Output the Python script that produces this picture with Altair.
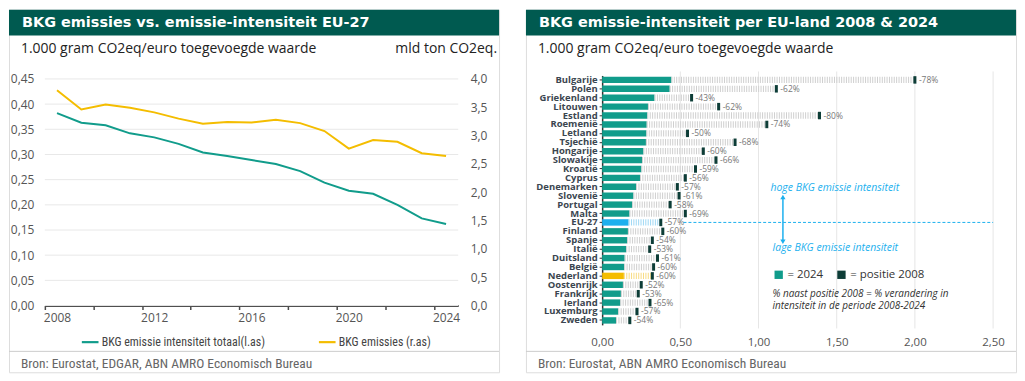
import altair as alt
import pandas as pd

# ---------------- data ----------------
jaren = list(range(2008, 2025))
intensiteit = [0.382, 0.363, 0.358, 0.342, 0.334, 0.321, 0.304, 0.297, 0.289,
               0.281, 0.267, 0.244, 0.228, 0.222, 0.200, 0.173, 0.162]
emissies = [3.80, 3.46, 3.55, 3.49, 3.41, 3.30, 3.21, 3.24, 3.23,
            3.28, 3.22, 3.08, 2.77, 2.92, 2.89, 2.69, 2.64]

landen = ["Bulgarije", "Polen", "Griekenland", "Litouwen", "Estland", "Roemenië",
          "Letland", "Tsjechië", "Hongarije", "Slowakije", "Kroatië", "Cyprus",
          "Denemarken", "Slovenië", "Portugal", "Malta", "EU-27", "Finland",
          "Spanje", "Italië", "Duitsland", "België", "Nederland", "Oostenrijk",
          "Frankrijk", "Ierland", "Luxemburg", "Zweden"]
waarde_2024 = [0.443, 0.432, 0.335, 0.293, 0.289, 0.285, 0.283, 0.280, 0.264,
               0.255, 0.251, 0.242, 0.217, 0.200, 0.192, 0.175, 0.169, 0.165,
               0.160, 0.154, 0.144, 0.141, 0.139, 0.133, 0.120, 0.116, 0.103, 0.089]
waarde_2008 = [2.000, 1.114, 0.572, 0.745, 1.390, 1.053, 0.546, 0.850, 0.647,
               0.728, 0.597, 0.532, 0.481, 0.492, 0.435, 0.532, 0.375, 0.388,
               0.321, 0.304, 0.354, 0.329, 0.321, 0.250, 0.231, 0.306, 0.223, 0.177]
verandering = ["-78%", "-62%", "-43%", "-62%", "-80%", "-74%", "-50%", "-68%", "-60%",
               "-66%", "-59%", "-56%", "-57%", "-61%", "-58%", "-69%", "-57%", "-60%",
               "-54%", "-53%", "-61%", "-60%", "-60%", "-52%", "-53%", "-65%", "-57%", "-54%"]

ticks_links = [0, 0.05, 0.10, 0.15, 0.20, 0.25, 0.30, 0.35, 0.40, 0.45]
ticks_rechts = [0, 0.5, 1.0, 1.5, 2.0, 2.5, 3.0, 3.5, 4.0]
ticks_land = [0, 0.5, 1.0, 1.5, 2.0, 2.5]

SERIE1 = "BKG emissie intensiteit totaal(l.as)"
SERIE2 = "BKG emissies (r.as)"

# ---------------- style ----------------
FONT = "Open Sans"
TITLE_FONT = "DejaVu Sans"
NARROW = "Liberation Sans Narrow, Roboto Condensed, Open Sans, sans-serif"
DARK_HEAD = "#005a50"
TEAL = "#119c8b"
YELLOW = "#f4bd00"
BLUE = "#1cb0ee"
DARK = "#0d3d37"
H = 364
W = 492


def single(text):
    return pd.DataFrame({"t": [text]})


def header(title, subtitle):
    rect = alt.Chart(single(title)).mark_rect(color=DARK_HEAD).encode(
        x=alt.value(0), x2=alt.value(W), y=alt.value(0), y2=alt.value(26))
    t = alt.Chart(single(title)).mark_text(
        align="left", baseline="middle", font=TITLE_FONT, fontSize=14.5,
        fontWeight="bold", color="white").encode(
        x=alt.value(13), y=alt.value(13.5), text="t:N")
    s = alt.Chart(single(subtitle)).mark_text(
        align="left", baseline="middle", font=FONT, fontSize=14,
        color="#222222").encode(x=alt.value(12), y=alt.value(39), text="t:N")
    return [rect, t, s]


def footer(source):
    line = alt.Chart(single(source)).mark_rule(color="#cccccc", strokeWidth=1).encode(
        x=alt.value(0), x2=alt.value(W), y=alt.value(343))
    txt = alt.Chart(single(source)).mark_text(
        align="left", baseline="middle", font=NARROW, fontSize=13.5,
        color="#666666").encode(x=alt.value(12), y=alt.value(355.5), text="t:N")
    return [line, txt]


nl2 = "replace(format(datum.value, '.2f'), '.', ',')"
nl1 = "replace(format(datum.value, '.1f'), '.', ',')"

# ---------------- left panel ----------------
df_l = pd.DataFrame({"jaar": jaren, "intensiteit": intensiteit, "emissies": emissies})

x_l = alt.X(
    "jaar:Q", title=None,
    scale=alt.Scale(domain=[2007.5, 2024.5], range=[36, 451], nice=False, zero=False),
    axis=alt.Axis(
        orient="bottom", offset=-(H - 297), values=[2007.5 + i for i in range(18)],
        labelExpr="(datum.value - 2007.5) % 4 == 0 && datum.value < 2024 ? '' + (datum.value + 0.5) : ''",
        labelOffset=12.2, labelFlush=False, labelOverlap=False, labelBound=False,
        domainColor="#4a4a4a", domainWidth=2, tickColor="#4a4a4a", tickSize=4,
        tickWidth=1.5, labelFontSize=12, labelColor="#555555", labelPadding=3,
        grid=False, labelFont=FONT))

y_l_scale = alt.Scale(domain=[0, 0.45], range=[297, 69.5], nice=False, zero=True)
y_r_scale = alt.Scale(domain=[0, 4.0], range=[297, 69.5], nice=False, zero=True)

grid_l = alt.Chart(pd.DataFrame({"g": ticks_links})).mark_rule(
    color="#e8e8e8", strokeWidth=1).encode(
    y=alt.Y("g:Q", scale=y_l_scale, axis=None, title=None),
    x=alt.value(36), x2=alt.value(451))

line1 = alt.Chart(df_l).transform_calculate(serie=f"'{SERIE1}'").mark_line(
    strokeWidth=2).encode(
    x=x_l,
    y=alt.Y("intensiteit:Q", scale=y_l_scale, title=None,
            axis=alt.Axis(orient="left", offset=-36, values=ticks_links, labelExpr=nl2,
                          domain=False, ticks=False, grid=False, labelPadding=11,
                          labelFontSize=12, labelColor="#555555", labelFont=FONT)),
    color=alt.Color("serie:N",
                    scale=alt.Scale(domain=[SERIE1, SERIE2], range=[TEAL, YELLOW]),
                    legend=alt.Legend(orient="none", legendX=72, legendY=324,
                                      direction="horizontal", title=None,
                                      symbolType="stroke", symbolStrokeWidth=2.2,
                                      symbolSize=280, labelFontSize=12,
                                      labelColor="#444444", labelFont=NARROW,
                                      labelLimit=400, columnPadding=48,
                                      labelOffset=2)))

line2 = alt.Chart(df_l).transform_calculate(serie=f"'{SERIE2}'").mark_line(
    strokeWidth=2).encode(
    x=alt.X("jaar:Q", title=None),
    y=alt.Y("emissies:Q", scale=y_r_scale, title=None,
            axis=alt.Axis(orient="right", offset=-(W - 451), values=ticks_rechts,
                          labelExpr=nl1, domain=False, ticks=False, grid=False,
                          labelPadding=12, labelFontSize=12, labelColor="#555555",
                          labelFont=FONT)),
    color=alt.Color("serie:N"))

unit_l = alt.Chart(single("mld ton CO2eq.")).mark_text(
    align="right", baseline="middle", font=FONT, fontSize=14, color="#222222").encode(
    x=alt.value(490), y=alt.value(39), text="t:N")

left = alt.layer(
    grid_l, line1, line2,
    *header("BKG emissies vs. emissie-intensiteit EU-27",
            "1.000 gram CO2eq/euro toegevoegde waarde"),
    unit_l,
    *footer("Bron: Eurostat, EDGAR, ABN AMRO Economisch Bureau"),
).resolve_scale(y="independent").properties(width=W, height=H)

# ---------------- right panel ----------------
df_r = pd.DataFrame({"land": landen, "v2024": waarde_2024, "v2008": waarde_2008,
                     "pct": verandering})

x_scale_r = alt.Scale(domain=[0, 2.5], range=[76.5, 469], nice=False, zero=True)
y_r = alt.Y("land:N", sort=landen, title=None,
            scale=alt.Scale(range=[66.0, 316.4], paddingInner=0.28, paddingOuter=0.14),
            axis=alt.Axis(orient="left", offset=-76.5, domainColor="#333333",
                          domainWidth=1.5, tickColor="#333333", tickSize=3,
                          labelPadding=2, labelFontSize=9.5, labelFontWeight="bold",
                          labelColor="#3b4650", labelFont=FONT, grid=False))

kleur_scale = alt.Scale(domain=["= 2024", "= positie 2008", "EU-27", "Nederland"],
                        range=[TEAL, DARK, BLUE, YELLOW])

grid_r = alt.Chart(pd.DataFrame({"g": ticks_land[1:]})).mark_rule(
    color="#e6e6e6", strokeWidth=1).encode(
    x=alt.X("g:Q", title=None, scale=x_scale_r),
    y=alt.value(62), y2=alt.value(320))

bars = alt.Chart(df_r).transform_calculate(
    groep="datum.land == 'EU-27' ? 'EU-27' : datum.land == 'Nederland' ? 'Nederland' : '= 2024'"
).mark_bar().encode(
    x=alt.X("v2024:Q", title=None, scale=x_scale_r,
            axis=alt.Axis(orient="bottom", offset=-(H - 325), values=ticks_land,
                          labelExpr=nl2, domain=False, ticks=False, grid=False,
                          labelFontSize=11.5, labelColor="#555555", labelFlush=False,
                          labelPadding=3, labelFont=FONT)),
    y=y_r,
    color=alt.Color("groep:N", scale=kleur_scale,
                    legend=alt.Legend(orient="none", legendX=248, legendY=260,
                                      direction="horizontal", title=None,
                                      values=["= 2024", "= positie 2008"],
                                      symbolType="square", symbolSize=70,
                                      symbolStrokeWidth=0, labelFontSize=11.5,
                                      labelColor="#333333", labelFont=FONT,
                                      columnPadding=12, labelOffset=3)))

stripes = alt.Chart(df_r).transform_calculate(
    streep="datum.land == 'EU-27' ? '#9ed8f5' : datum.land == 'Nederland' ? '#f8dc84' : '#cfcfcf'"
).mark_rule(strokeWidth=6.4, strokeDash=[1, 1.4]).encode(
    x=alt.X("v2024:Q", title=None), x2="v2008:Q", y=alt.Y("land:N", sort=landen),
    stroke=alt.Stroke("streep:N", scale=None))

marks2008 = alt.Chart(df_r).transform_calculate(groep="'= positie 2008'").mark_tick(
    thickness=3, size=7.5, opacity=1).encode(
    x=alt.X("v2008:Q", title=None), y=alt.Y("land:N", sort=landen),
    color=alt.Color("groep:N"))

pct_txt = alt.Chart(df_r).mark_text(
    align="left", baseline="middle", dx=4, fontSize=8.5, color="#777777",
    font=FONT).encode(
    x=alt.X("v2008:Q", title=None), y=alt.Y("land:N", sort=landen), text="pct:N")

eu_line = alt.Chart(single("EU-27")).mark_rule(
    color=BLUE, strokeWidth=1, strokeDash=[3, 2]).encode(
    x=alt.datum(0.52), x2=alt.datum(2.5), y=alt.datum("EU-27"))

arrow = alt.Chart(single("pijl")).mark_rule(color=BLUE, strokeWidth=1.5).encode(
    x=alt.datum(1.156), y=alt.value(189), y2=alt.value(232))
arrow_up = alt.Chart(single("pijl")).mark_point(
    shape="triangle-up", filled=True, size=28, color=BLUE, opacity=1).encode(
    x=alt.datum(1.156), y=alt.value(188))
arrow_down = alt.Chart(single("pijl")).mark_point(
    shape="triangle-down", filled=True, size=28, color=BLUE, opacity=1).encode(
    x=alt.datum(1.156), y=alt.value(233))

hoge = alt.Chart(single("hoge BKG emissie intensiteit")).mark_text(
    align="left", baseline="middle", fontSize=10.5, fontStyle="italic", color=BLUE,
    font=FONT).encode(x=alt.datum(1.076), y=alt.value(179.5), text="t:N")
lage = alt.Chart(single("lage BKG emissie intensiteit")).mark_text(
    align="left", baseline="middle", fontSize=10.5, fontStyle="italic", color=BLUE,
    font=FONT).encode(x=alt.datum(1.09), y=alt.value(239.5), text="t:N")
noot = alt.Chart(single("% naast positie 2008 = % verandering in\nintensiteit in de periode 2008-2024")).mark_text(
    align="left", baseline="middle", fontSize=10, fontStyle="italic", color="#333333",
    font=FONT, lineBreak="\n", lineHeight=12.5).encode(
    x=alt.datum(1.089), y=alt.value(285), text="t:N")

right = alt.layer(
    grid_r, bars, stripes, marks2008, pct_txt, eu_line, arrow, arrow_up, arrow_down,
    hoge, lage, noot,
    *header("BKG emissie-intensiteit per EU-land 2008 & 2024",
            "1.000 gram CO2eq/euro toegevoegde waarde"),
    *footer("Bron: Eurostat, ABN AMRO Economisch Bureau"),
).properties(width=W, height=H)

chart = alt.hconcat(left, right, spacing=25).resolve_scale(
    color="independent").properties(padding=0).configure_view(
    stroke=None).configure(font=FONT)

chart.save("out.html", embed_options={"renderer": "svg", "actions": False})
